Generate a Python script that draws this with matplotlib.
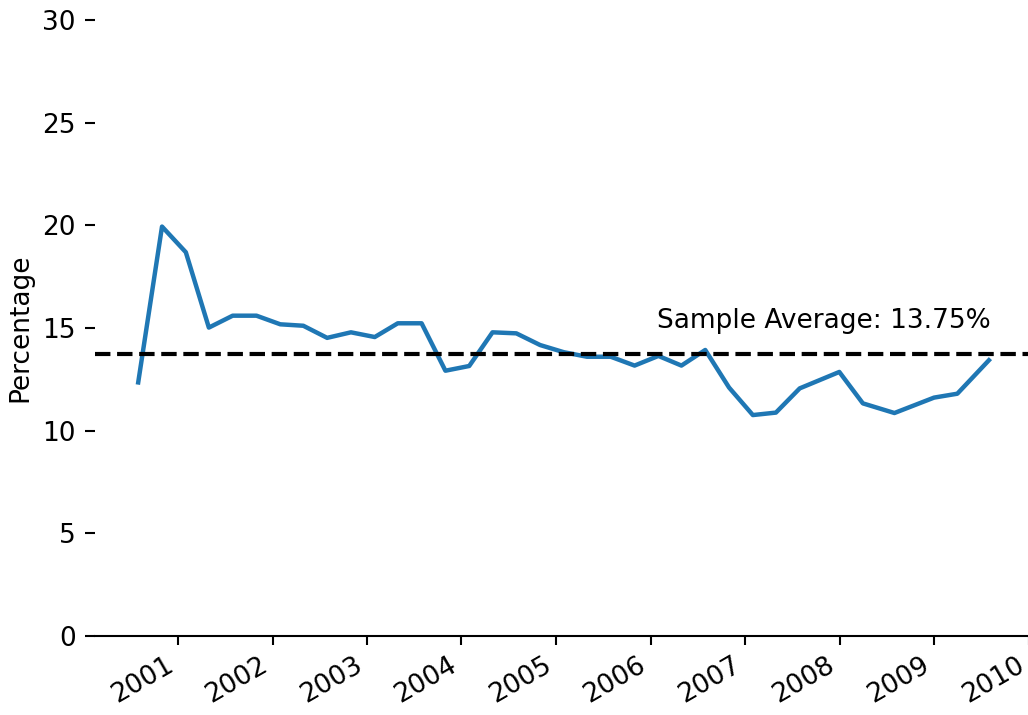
import matplotlib
matplotlib.use("Agg")
import matplotlib.pyplot as plt
import matplotlib.dates as mdates
import pandas as pd

plt.rcParams.update({
    "font.family": "DejaVu Sans",
    "font.size": 19,
})

# observation dates and share (%)
dates = [
    "2000-07-31", "2000-10-31", "2001-01-31", "2001-04-30", "2001-07-31",
    "2001-10-31", "2002-01-31", "2002-04-30", "2002-07-31", "2002-10-31",
    "2003-01-31", "2003-04-30", "2003-07-31", "2003-10-31", "2004-01-31",
    "2004-04-30", "2004-07-31", "2004-10-31", "2005-01-31", "2005-04-30",
    "2005-07-31", "2005-10-31", "2006-01-31", "2006-04-30", "2006-07-31",
    "2006-10-31", "2007-01-31", "2007-04-30", "2007-07-31", "2007-12-31",
    "2008-03-31", "2008-07-31", "2008-12-31", "2009-03-31", "2009-07-31",
]
values = [
    12.35, 19.94, 18.69, 15.02, 15.60,
    15.60, 15.18, 15.11, 14.52, 14.79,
    14.56, 15.23, 15.23, 12.92, 13.15,
    14.79, 14.74, 14.17, 13.82, 13.60,
    13.60, 13.17, 13.64, 13.17, 13.93,
    12.10, 10.76, 10.88, 12.06, 12.86,
    11.33, 10.86, 11.61, 11.80, 13.43,
]
sample_avg = 13.75

x = pd.to_datetime(dates)

fig = plt.figure(figsize=(10.28, 7.15), dpi=100)
ax = fig.add_axes([0.0924, 0.1105, 0.9106, 0.8615])

ax.plot(x, values, color="#1f77b4", linewidth=3.2)
ax.axhline(sample_avg, color="black", linestyle="--", linewidth=3)
ax.text(pd.Timestamp("2006-01-25"), 15.0, f"Sample Average: {sample_avg:.2f}%")

ax.set_ylim(0, 30)
ax.set_yticks(range(0, 31, 5))
ax.set_xlim(pd.Timestamp("2000-02-15"), pd.Timestamp("2010-01-10"))
ax.xaxis.set_major_locator(mdates.YearLocator())
ax.xaxis.set_major_formatter(mdates.DateFormatter("%Y"))
for lbl in ax.get_xticklabels():
    lbl.set_rotation(30)
    lbl.set_ha("right")

ax.set_ylabel("Percentage", labelpad=6)
for side in ("top", "right", "left"):
    ax.spines[side].set_visible(False)
ax.spines["bottom"].set_linewidth(1.5)
ax.tick_params(axis="y", length=7, width=1.5, pad=7)
ax.tick_params(axis="x", length=6.5, width=1.5, pad=5)

fig.savefig("out.png", dpi=100)
